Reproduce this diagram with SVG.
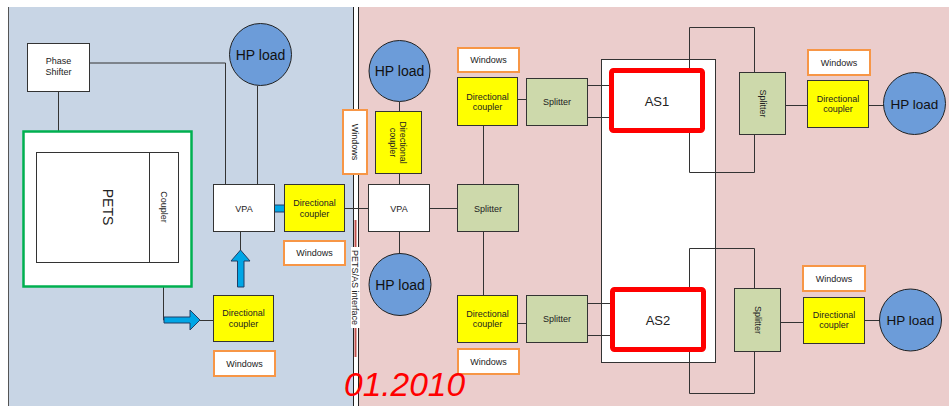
<svg xmlns="http://www.w3.org/2000/svg" width="949" height="406" viewBox="0 0 949 406">
<style>
text{font-family:"Liberation Sans",Arial,sans-serif;fill:#222;}
.s{font-size:9px;text-anchor:middle;}
.hp{font-size:14px;text-anchor:middle;fill:#111;}
.box{fill:#fff;stroke:#333;stroke-width:1;}
.dc{fill:#ffff00;stroke:#333;stroke-width:1;}
.sp{fill:#cdd9ab;stroke:#333;stroke-width:1;}
.win{fill:#fff;stroke:#f79646;stroke-width:2;}
.load{fill:#6c9cd9;stroke:#222;stroke-width:1;}
.as{fill:#fff;stroke:#ff0000;stroke-width:5;}
.arr{fill:#00a6e6;stroke:#1f3f66;stroke-width:1;}
#connectors path{fill:none;stroke:#333;stroke-width:1;}
</style>
<rect x="0" y="0" width="949" height="406" fill="#fff"/>
<rect x="8" y="7" width="345" height="399" fill="#c8d5e5"/>
<rect x="359" y="7" width="590" height="399" fill="#ebcdcc"/>
<line x1="8.5" y1="7" x2="8.5" y2="406" stroke="#555" stroke-width="1"/>
<line x1="353.5" y1="7" x2="353.5" y2="406" stroke="#222" stroke-width="1"/>
<line x1="358.5" y1="7" x2="358.5" y2="406" stroke="#222" stroke-width="1"/>
<line x1="355.5" y1="220" x2="355.5" y2="357" stroke="#c0504d" stroke-width="2"/>
<g id="interface-label">
<rect x="351" y="247" width="9" height="81" fill="#fff"/>
<text class="s" transform="translate(355.5,287.5) rotate(90)" dy="3.2">PETS/AS interface</text>
</g>
<g id="big-box"><rect class="box" x="601.5" y="59.5" width="114" height="303"/></g>

<g id="connectors">
<path d="M89,63 H225.5 V184"/>
<path d="M257.5,86 V184"/>
<path d="M58.5,91 V155"/>
<path d="M163.5,263 V320 H164"/>
<path d="M200,320.5 H213"/>
<path d="M240.5,232 V250"/>
<path d="M345,208.5 H368"/>
<path d="M399.5,102 V111"/>
<path d="M399.5,174 V184"/>
<path d="M399.5,232 V253"/>
<path d="M430,208.5 H457"/>
<path d="M483.5,126 V184"/>
<path d="M483.5,232 V295"/>
<path d="M518,99.5 H526"/>
<path d="M518,323.5 H526"/>
<path d="M588,85.5 H610"/>
<path d="M588,117.5 H610"/>
<path d="M588,303.5 H611"/>
<path d="M588,335.5 H611"/>
<path d="M689.5,68 V27.5 H754.5 V72"/>
<path d="M689.5,133 V172.5 H754.5 V135"/>
<path d="M689.5,287 V248.5 H754.5 V288"/>
<path d="M689.5,352 V393.5 H754.5 V352"/>
<path d="M785,105.5 H807"/>
<path d="M869,105.5 H884"/>
<path d="M781,322.5 H803"/>
<path d="M864,320.5 H880"/>
<polygon class="arr" points="261,205 287,205 287,198 297,208.5 287,219 287,212 261,212"/>
<polygon class="arr" points="164,317 190,317 190,310 200,320 190,330 190,323 164,323"/>
<polygon class="arr" points="237.5,287 237.5,261 231,261 240.5,250 250,261 244,261 244,287"/>
</g>

<g id="phase-shifter">
<rect class="box" x="27.5" y="43.5" width="62" height="48"/>
<text class="s" x="58.5" y="64">Phase</text>
<text class="s" x="58.5" y="75">Shifter</text>
</g>
<g id="hp-load-1"><circle class="load" cx="260.5" cy="54.5" r="31"/><text class="hp" x="260.5" y="59.5">HP load</text></g>
<g id="pets-frame"><rect x="23.5" y="131.5" width="168" height="155" fill="#fff" stroke="#00b050" stroke-width="2.5"/></g>
<g id="pets">
<rect class="box" x="36.5" y="152.5" width="113" height="110"/>
<text transform="translate(108,207) rotate(90)" style="font-size:14px;text-anchor:middle" dy="5">PETS</text>
</g>
<g id="coupler">
<rect class="box" x="149.5" y="152.5" width="29" height="110"/>
<text class="s" transform="translate(164,207) rotate(90)" dy="3">Coupler</text>
</g>
<g id="vpa-1"><rect class="box" x="213.5" y="184.5" width="61" height="47"/><text class="s" x="244" y="211.5">VPA</text></g>
<g id="dc-1"><rect class="dc" x="284.5" y="184.5" width="60" height="47"/><text class="s" x="314.5" y="206">Directional</text><text class="s" x="314.5" y="216.5">coupler</text></g>
<g id="win-1"><rect class="win" x="284" y="241" width="61" height="24"/><text class="s" x="314.5" y="256">Windows</text></g>
<g id="dc-2"><rect class="dc" x="213.5" y="295.5" width="60" height="46"/><text class="s" x="243.5" y="316">Directional</text><text class="s" x="243.5" y="326.5">coupler</text></g>
<g id="win-2"><rect class="win" x="214" y="351" width="61" height="25"/><text class="s" x="244.5" y="366.5">Windows</text></g>

<g id="win-3"><rect class="win" x="343" y="110" width="24" height="64"/><text class="s" transform="translate(355,142) rotate(90)" dy="3.2">Windows</text></g>
<g id="hp-load-2"><circle class="load" cx="399.5" cy="71" r="30.5"/><text class="hp" x="399.5" y="76">HP load</text></g>
<g id="dc-3"><rect class="dc" x="375.5" y="111.5" width="46" height="62"/>
<text class="s" transform="translate(403,142.5) rotate(90)" dy="3">Directional</text>
<text class="s" transform="translate(392.5,142.5) rotate(90)" dy="3">coupler</text></g>
<g id="vpa-2"><rect class="box" x="368.5" y="184.5" width="61" height="47"/><text class="s" x="399" y="211.5">VPA</text></g>
<g id="hp-load-3"><circle class="load" cx="400" cy="284.5" r="31"/><text class="hp" x="400" y="289.5">HP load</text></g>
<g id="splitter-1"><rect class="sp" x="457.5" y="184.5" width="61" height="47"/><text class="s" x="488" y="211.5">Splitter</text></g>
<g id="win-4"><rect class="win" x="458" y="48" width="61" height="24"/><text class="s" x="488.5" y="63">Windows</text></g>
<g id="dc-4"><rect class="dc" x="457.5" y="77.5" width="60" height="48"/><text class="s" x="487.5" y="99.5">Directional</text><text class="s" x="487.5" y="110">coupler</text></g>
<g id="splitter-2"><rect class="sp" x="526.5" y="78.5" width="61" height="47"/><text class="s" x="557" y="105">Splitter</text></g>
<g id="dc-5"><rect class="dc" x="457.5" y="295.5" width="60" height="47"/><text class="s" x="487.5" y="316.5">Directional</text><text class="s" x="487.5" y="327">coupler</text></g>
<g id="win-5"><rect class="win" x="458" y="349" width="61" height="25"/><text class="s" x="488.5" y="364.5">Windows</text></g>
<g id="splitter-3"><rect class="sp" x="526.5" y="295.5" width="61" height="47"/><text class="s" x="557" y="322">Splitter</text></g>
<g id="as1"><rect class="as" x="611.5" y="70.5" width="91" height="60" rx="2"/><text x="657" y="106" style="font-size:13px;text-anchor:middle">AS1</text></g>
<g id="as2"><rect class="as" x="612.5" y="289.5" width="91" height="60" rx="2"/><text x="658" y="325" style="font-size:13px;text-anchor:middle">AS2</text></g>
<g id="splitter-4"><rect class="sp" x="739.5" y="72.5" width="46" height="62"/><text class="s" transform="translate(762.5,103.5) rotate(90)" dy="3">Splitter</text></g>
<g id="win-6"><rect class="win" x="808" y="50" width="62" height="25"/><text class="s" x="839" y="65.5">Windows</text></g>
<g id="dc-6"><rect class="dc" x="807.5" y="80.5" width="61" height="47"/><text class="s" x="838" y="101.5">Directional</text><text class="s" x="838" y="112">coupler</text></g>
<g id="hp-load-4"><circle class="load" cx="914.5" cy="103.5" r="31"/><text class="hp" x="914.5" y="108.5" style="font-size:13.5px">HP load</text></g>
<g id="splitter-5"><rect class="sp" x="734.5" y="288.5" width="46" height="63"/><text class="s" transform="translate(757.5,320) rotate(90)" dy="3">Splitter</text></g>
<g id="win-7"><rect class="win" x="803" y="266" width="62" height="25"/><text class="s" x="834" y="281.5">Windows</text></g>
<g id="dc-7"><rect class="dc" x="803.5" y="297.5" width="61" height="46"/><text class="s" x="834" y="317.5">Directional</text><text class="s" x="834" y="328">coupler</text></g>
<g id="hp-load-5"><circle class="load" cx="910.5" cy="320" r="31"/><text class="hp" x="910.5" y="325" style="font-size:13.5px">HP load</text></g>

<text x="344" y="396" style="font-size:33.5px;font-style:italic;fill:#ff0000">01.2010</text>
</svg>
